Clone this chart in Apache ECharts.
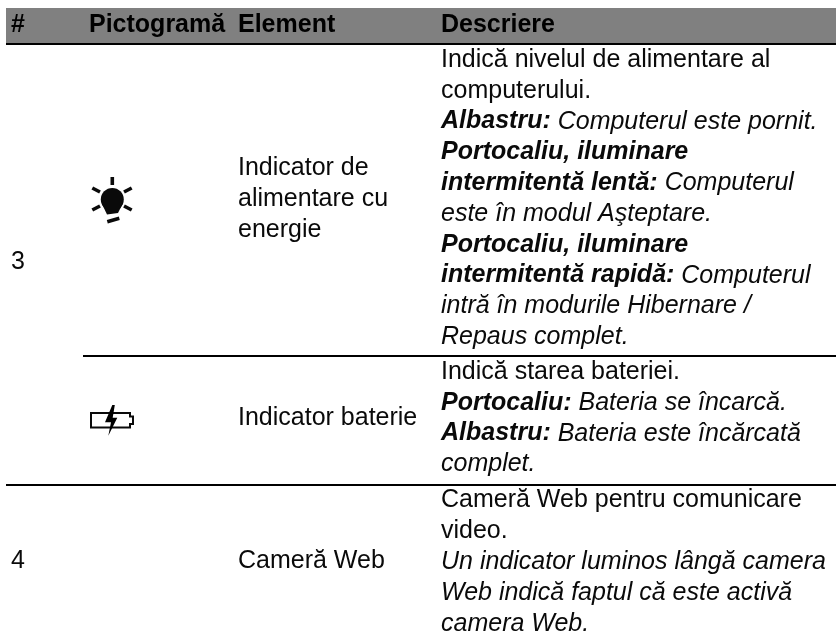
<!DOCTYPE html>
<html>
<head>
<meta charset="utf-8">
<script src="https://cdn.jsdelivr.net/npm/echarts@6/dist/echarts.min.js"></script>
<style>
  html, body { margin: 0; padding: 0; background: #fff; }
  #chart { width: 836px; height: 640px; }
</style>
</head>
<body>
<div id="chart"></div>
<script>
const headers = ['#', 'Pictogramă', 'Element', 'Descriere'];
const rowNumbers = ['3', '4'];
const elementPower = ['Indicator de', 'alimentare cu', 'energie'];
const elementBattery = ['Indicator baterie'];
const elementCamera = ['Cameră Web'];
// each line: [bold part, normal part, italic?]
const descPower = [
  ['', 'Indică nivelul de alimentare al', false],
  ['', 'computerului.', false],
  ['Albastru:', ' Computerul este pornit.', true],
  ['Portocaliu, iluminare', '', true],
  ['intermitentă lentă:', ' Computerul', true],
  ['', 'este în modul Aşteptare.', true],
  ['Portocaliu, iluminare', '', true],
  ['intermitentă rapidă:', ' Computerul', true],
  ['', 'intră în modurile Hibernare /', true],
  ['', 'Repaus complet.', true]
];
const descBattery = [
  ['', 'Indică starea bateriei.', false],
  ['Portocaliu:', ' Bateria se încarcă.', true],
  ['Albastru:', ' Bateria este încărcată', true],
  ['', 'complet.', true]
];
const descCamera = [
  ['', 'Cameră Web pentru comunicare', false],
  ['', 'video.', false],
  ['', 'Un indicator luminos lângă camera', true],
  ['', 'Web indică faptul că este activă', true],
  ['', 'camera Web.', true]
];

const FONT = '"Liberation Sans", Arial, sans-serif';
const SIZE = 25;
const PITCH = 30.8;
const INK = '#0a0a0a';

const myChart = echarts.init(document.getElementById('chart'));

function plain(x, y, text, bold) {
  return { type: 'text', x, y, style: {
    text, fontFamily: FONT, fontSize: SIZE, fontWeight: bold ? 'bold' : 'normal',
    fill: bold ? '#000' : INK, verticalAlign: 'middle'
  } };
}

function block(x, top, lines) {
  return lines.map((t, i) => plain(x, top + i * PITCH, t));
}

function descLines(lines, top) {
  return lines.map((l, i) => {
    const text = (l[0] ? '{b|' + l[0] + '}' : '') + (l[1] ? '{' + (l[2] ? 'i' : 'n') + '|' + l[1] + '}' : '');
    return { type: 'text', x: 441, y: top + i * PITCH, style: {
      text, fontFamily: FONT, fontSize: SIZE, fill: INK, verticalAlign: 'middle',
      rich: {
        b: { fontFamily: FONT, fontSize: SIZE, fontWeight: 'bold', fontStyle: 'italic', fill: INK },
        i: { fontFamily: FONT, fontSize: SIZE, fontStyle: 'italic', fill: INK },
        n: { fontFamily: FONT, fontSize: SIZE, fill: INK }
      }
    } };
  });
}

function ray(x1, y1, x2, y2) {
  return { type: 'line', shape: { x1, y1, x2, y2 }, style: { stroke: INK, lineWidth: 3.6 } };
}

// icons from the reference
const bulb = [
  ray(112.3, 177, 112.3, 185),
  ray(92.3, 188, 100, 192),
  ray(131.7, 188, 124, 192),
  ray(92.3, 210, 100, 206),
  ray(131.7, 210, 124, 206),
  ray(107.3, 221.7, 119.3, 218.3),
  { type: 'circle', shape: { cx: 112.3, cy: 199.5, r: 11.5 }, style: { fill: INK } },
  { type: 'polygon', shape: { points: [[102, 204], [122.6, 204], [118, 213], [107, 214.5]] }, style: { fill: INK } }
];
const battery = [
  { type: 'polygon', shape: { points: [[91, 413], [130, 413], [130, 416.5], [133, 416.5], [133, 424], [130, 424], [130, 427.5], [91, 427.5]] },
    style: { fill: 'transparent', stroke: INK, lineWidth: 2 } },
  { type: 'polygon', shape: { points: [[112.3, 405], [105, 422.3], [111, 422.3], [108.3, 435.7], [117.3, 417.7], [112.7, 417.7], [114.8, 405]] },
    style: { fill: '#000' } }
];

const elements = [
  { type: 'rect', shape: { x: 6, y: 8, width: 830, height: 35 }, style: { fill: '#808080' } },
  { type: 'rect', shape: { x: 6, y: 43, width: 830, height: 2 }, style: { fill: '#000' } },
  { type: 'rect', shape: { x: 83, y: 355, width: 753, height: 2 }, style: { fill: '#000' } },
  { type: 'rect', shape: { x: 6, y: 484, width: 830, height: 2 }, style: { fill: '#000' } },
  plain(11, 25, headers[0], true),
  plain(89, 25, headers[1], true),
  plain(238, 25, headers[2], true),
  plain(441, 25, headers[3], true),
  plain(11, 262, rowNumbers[0]),
  plain(11, 561, rowNumbers[1])
].concat(
  block(238, 168.5, elementPower),
  block(238, 418, elementBattery),
  block(238, 561, elementCamera),
  descLines(descPower, 60),
  descLines(descBattery, 372),
  descLines(descCamera, 500.5),
  bulb,
  battery
);

myChart.setOption({ animation: false, graphic: { elements } });
</script>
</body>
</html>
